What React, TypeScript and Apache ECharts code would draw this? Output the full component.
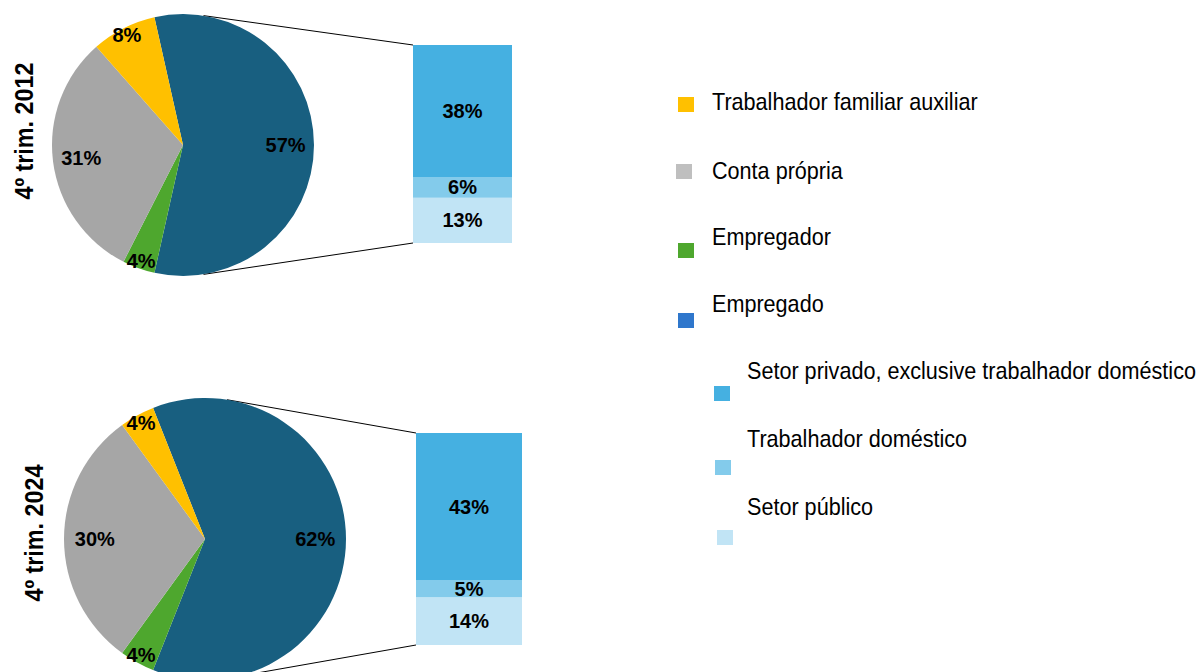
import React, { useEffect, useRef } from "react";
import * as echarts from "echarts";

// ---- Data ----
const periods = ["4º trim. 2012", "4º trim. 2024"];
const pieCategories = ["Empregado", "Empregador", "Conta própria", "Trabalhador familiar auxiliar"];
const pie2012 = [57, 4, 31, 8];
const pie2024 = [62, 4, 30, 4];
const barCategories = ["Setor público", "Trabalhador doméstico", "Setor privado, exclusive trabalhador doméstico"];
const bar2012 = [13, 6, 38];
const bar2024 = [14, 5, 43];
const legendLabels = [
  "Trabalhador familiar auxiliar",
  "Conta própria",
  "Empregador",
  "Empregado",
  "Setor privado, exclusive trabalhador doméstico",
  "Trabalhador doméstico",
  "Setor público",
];

// ---- Styles / layout ----
const FONT = "'Liberation Sans Narrow', 'Arial Narrow', 'Liberation Sans', Arial, sans-serif";
const pieColors = ["#185F80", "#4EA72E", "#A6A6A6", "#FFC000"];
const barColors = ["#C1E4F5", "#83CBEB", "#45B0E1"];
const legendColors = ["#FFC000", "#BFBFBF", "#4EA72E", "#2F77CC", "#45B0E1", "#83CBEB", "#C1E4F5"];
const legendLayout = [
  { mx: 678, my: 97, tx: 712, ty: 102 },
  { mx: 676, my: 164, tx: 712, ty: 171 },
  { mx: 678, my: 243, tx: 712, ty: 237 },
  { mx: 678, my: 313, tx: 712, ty: 304 },
  { mx: 714, my: 386, tx: 747, ty: 371 },
  { mx: 715, my: 460, tx: 747, ty: 439 },
  { mx: 717, my: 530, tx: 747, ty: 507 },
];
const panels = [
  { cx: 183, cy: 145, r: 131, bar: { left: 413, top: 45, width: 99, height: 198 }, title: { x: 24, y: 131 } },
  { cx: 205, cy: 539, r: 141, bar: { left: 416, top: 433, width: 106, height: 212 }, title: { x: 34, y: 533 } },
];
const CONNECT_ANGLE = (81 * Math.PI) / 180;

export default function App() {
  const ref = useRef<HTMLDivElement>(null);

  useEffect(() => {
    document.body.style.margin = "0";
    const chart = echarts.init(ref.current!, undefined, { renderer: "svg" });
    const pies = [pie2012, pie2024];
    const bars = [bar2012, bar2024];

    const series: any[] = [];
    const grid: any[] = [];
    const xAxis: any[] = [];
    const yAxis: any[] = [];
    const graphic: any[] = [];

    panels.forEach((p, i) => {
      const vals = pies[i];
      const total = vals.reduce((a, b) => a + b, 0);
      const startAngle = (vals[0] / total) * 180;
      const data = pieCategories.map((n, k) => ({ name: n, value: vals[k], itemStyle: { color: pieColors[k] } }));
      series.push({
        type: "pie",
        center: [p.cx, p.cy],
        radius: [0, p.r],
        startAngle,
        clockwise: true,
        silent: true,
        label: { show: false },
        labelLine: { show: false },
        emphasis: { disabled: true },
        data,
      });
      const labelStyle = { color: "#000", fontWeight: "bold", fontSize: 20, fontFamily: FONT };
      const ghost = pieCategories.map((n, k) => ({ name: n, value: vals[k], itemStyle: { color: "transparent" } }));
      series.push({
        type: "pie",
        center: [p.cx, p.cy],
        radius: [p.r * 0.52, p.r],
        startAngle,
        silent: true,
        labelLine: { show: false },
        emphasis: { disabled: true },
        label: { show: true, position: "inside", ...labelStyle, formatter: (d: any) => (d.value >= 10 ? `${d.value}%` : "") },
        data: ghost,
      });
      series.push({
        type: "pie",
        center: [p.cx, p.cy],
        radius: [p.r * 0.84, p.r],
        startAngle,
        silent: true,
        labelLine: { show: false },
        emphasis: { disabled: true },
        label: { show: true, position: "inside", ...labelStyle, formatter: (d: any) => (d.value < 10 ? `${d.value}%` : "") },
        data: ghost,
      });

      // stacked bar
      grid.push({ left: p.bar.left, top: p.bar.top, width: p.bar.width, height: p.bar.height });
      xAxis.push({ type: "category", gridIndex: i, data: [periods[i]], show: false });
      const bsum = bars[i].reduce((a, b) => a + b, 0);
      yAxis.push({ type: "value", gridIndex: i, min: 0, max: bsum, show: false });
      barCategories.forEach((bn, k) => {
        series.push({
          type: "bar",
          name: bn,
          xAxisIndex: i,
          yAxisIndex: i,
          stack: "s" + i,
          barWidth: "100%",
          silent: true,
          itemStyle: { color: barColors[k] },
          label: { show: true, position: "inside", formatter: "{c}%", ...labelStyle },
          data: [bars[i][k]],
        });
      });

      // connector lines
      const px = p.cx + p.r * Math.cos(CONNECT_ANGLE);
      const pyTop = p.cy - p.r * Math.sin(CONNECT_ANGLE);
      const pyBot = p.cy + p.r * Math.sin(CONNECT_ANGLE);
      graphic.push({
        type: "line",
        shape: { x1: px, y1: pyTop, x2: p.bar.left, y2: p.bar.top },
        style: { stroke: "#000", lineWidth: 1 },
        silent: true,
      });
      graphic.push({
        type: "line",
        shape: { x1: px, y1: pyBot, x2: p.bar.left, y2: p.bar.top + p.bar.height },
        style: { stroke: "#000", lineWidth: 1 },
        silent: true,
      });
      // title
      graphic.push({
        type: "text",
        x: p.title.x,
        y: p.title.y,
        rotation: Math.PI / 2,
        scaleX: 0.9,
        style: {
          text: periods[i],
          font: `bold 26px ${FONT}`,
          fill: "#000",
          align: "center",
          verticalAlign: "middle",
        },
        silent: true,
      });
    });

    legendLabels.forEach((t, k) => {
      const l = legendLayout[k];
      graphic.push({ type: "rect", shape: { x: l.mx, y: l.my, width: 16, height: 15 }, style: { fill: legendColors[k] }, silent: true });
      graphic.push({
        type: "text",
        x: l.tx,
        y: l.ty,
        scaleX: 0.9,
        style: { text: t, font: `24px ${FONT}`, fill: "#000", align: "left", verticalAlign: "middle" },
        silent: true,
      });
    });

    chart.setOption({
      animation: false,
      backgroundColor: "#fff",
      grid,
      xAxis,
      yAxis,
      series,
      graphic,
    });
    return () => chart.dispose();
  }, []);

  return <div ref={ref} style={{ position: "fixed", left: 0, top: 0, width: 1204, height: 672 }} />;
}
